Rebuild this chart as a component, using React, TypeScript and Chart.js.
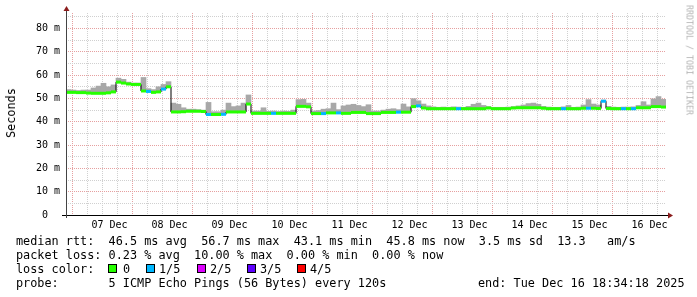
import React, { useEffect, useRef } from 'react';
import { Chart, registerables } from 'chart.js';

Chart.register(...registerables);

// ---- data (one sample = 2 hours, 120 samples over 10 days) ----
const HOURS_PER_SAMPLE = 2;
const MEDIAN_MS = [
  52.6, 52.6, 52.5, 52.5, 52.3, 52.2, 52.2, 52.2, 52.4, 52.8,
  57.0, 56.6, 56.2, 56.0, 56.0, 53.2, 53.0, 52.6, 52.8, 54.0,
  55.0, 44.2, 44.2, 44.3, 44.5, 44.5, 44.5, 44.4, 43.1, 43.1,
  43.1, 43.2, 44.2, 44.2, 44.2, 44.2, 47.6, 43.6, 43.6, 43.6,
  43.6, 43.6, 43.6, 43.6, 43.6, 43.6, 46.6, 46.6, 46.4, 43.5,
  43.5, 43.5, 43.8, 43.8, 43.8, 43.6, 43.6, 44.0, 44.0, 44.0,
  43.5, 43.5, 43.5, 44.0, 44.0, 44.0, 44.1, 44.1, 44.1, 46.5,
  46.8, 45.9, 45.6, 45.6, 45.6, 45.6, 45.6, 45.6, 45.6, 45.6,
  45.6, 45.6, 45.6, 45.6, 45.9, 45.6, 45.6, 45.6, 45.6, 45.9,
  46.0, 46.0, 46.0, 46.0, 46.0, 45.8, 45.6, 45.6, 45.6, 45.6,
  45.6, 45.6, 45.6, 45.8, 45.8, 45.8, 45.7, 48.8, 45.7, 45.6,
  45.6, 45.6, 45.6, 45.6, 46.0, 46.0, 46.0, 46.5, 46.5, 46.3,
];
const SMOKE_MAX_MS = [
  53.8, 53.6, 53.4, 53.6, 53.6, 54.5, 55.3, 56.5, 55.0, 55.8,
  58.7, 58.2, 57.0, 56.6, 56.6, 59.0, 54.2, 53.8, 55.0, 56.0,
  57.2, 48.0, 47.5, 46.0, 45.4, 45.4, 45.2, 45.0, 48.3, 44.3,
  44.3, 45.0, 48.0, 46.5, 46.8, 48.0, 51.5, 44.6, 44.6, 46.0,
  44.5, 44.6, 44.4, 44.6, 44.5, 45.0, 49.5, 49.6, 48.0, 44.6,
  44.8, 45.4, 45.6, 48.0, 45.2, 46.8, 47.2, 47.5, 47.0, 46.5,
  47.3, 44.6, 44.6, 45.0, 45.4, 45.6, 45.2, 47.6, 46.4, 49.9,
  49.0, 47.6, 46.8, 46.4, 46.2, 46.3, 46.2, 46.4, 46.3, 46.2,
  46.6, 47.5, 48.0, 47.0, 46.5, 46.2, 46.2, 46.2, 46.3, 46.5,
  46.8, 47.2, 47.8, 48.0, 47.5, 46.6, 46.3, 46.2, 46.2, 46.4,
  47.0, 46.2, 46.3, 47.2, 49.5, 47.6, 47.2, 49.3, 46.6, 46.3,
  46.2, 46.3, 46.3, 46.4, 47.0, 48.6, 47.2, 49.8, 50.8, 49.6,
];
const LOST_PINGS = [
  0, 0, 0, 0, 0, 0, 0, 0, 0, 0,
  0, 0, 0, 0, 0, 0, 1, 0, 0, 1,
  0, 0, 0, 0, 0, 0, 0, 0, 1, 0,
  0, 1, 0, 0, 0, 0, 0, 0, 0, 0,
  0, 1, 0, 0, 0, 0, 0, 0, 0, 0,
  0, 1, 0, 0, 1, 0, 0, 0, 0, 0,
  0, 0, 0, 0, 0, 0, 1, 0, 0, 0,
  1, 0, 0, 0, 0, 0, 0, 0, 1, 0,
  0, 0, 0, 0, 0, 0, 0, 0, 0, 0,
  0, 0, 0, 0, 0, 0, 0, 0, 0, 1,
  0, 0, 0, 0, 1, 0, 0, 1, 0, 0,
  0, 1, 0, 1, 0, 0, 0, 0, 0, 0,
];
const DAY_LABELS = ['07 Dec', '08 Dec', '09 Dec', '10 Dec', '11 Dec', '12 Dec', '13 Dec', '14 Dec', '15 Dec', '16 Dec'];
const Y_TICKS = [0, 5, 10, 15, 20, 25, 30, 35, 40, 45, 50, 55, 60, 65, 70, 75, 80, 85];
const Y_MAX = 86.65;
const LOSS_COLORS = ['#26ff00', '#00b8ff', '#dd00ff', '#5e00ff', '#ff0000'];
const LOSS_LABELS = ['0', '1/5', '2/5', '3/5', '4/5'];
const LINE_RTT = 'median rtt:  46.5 ms avg  56.7 ms max  43.1 ms min  45.8 ms now  3.5 ms sd  13.3   am/s';
const LINE_LOSS = 'packet loss: 0.23 % avg  10.00 % max  0.00 % min  0.00 % now';
const LINE_PROBE = 'probe:       5 ICMP Echo Pings (56 Bytes) every 120s';
const LINE_END = 'end: Tue Dec 16 18:34:18 2025';
// graph starts Dec 06 18:34:18 -> first midnight 5h25m42s later
const FIRST_MIDNIGHT_H = 5 + 25 / 60 + 42 / 3600;

const MAJOR = 'rgb(230,160,160)';
const MINOR = 'rgb(208,208,208)';
const MONO = '"DejaVu Sans Mono", monospace';

const rrdAxes = {
  id: 'rrdAxes',
  afterDatasetsDraw(chart: any) {
    const { ctx, chartArea: a } = chart;
    ctx.save();
    ctx.lineWidth = 1;
    ctx.strokeStyle = '#000';
    ctx.beginPath();
    ctx.moveTo(a.left - 4, a.bottom + 0.5);
    ctx.lineTo(a.right + 2, a.bottom + 0.5);
    ctx.stroke();
    ctx.strokeStyle = '#444';
    ctx.beginPath();
    ctx.moveTo(a.left + 0.5, a.bottom + 3);
    ctx.lineTo(a.left + 0.5, a.top - 2);
    ctx.stroke();
    ctx.fillStyle = '#8b1c1c';
    ctx.beginPath();
    ctx.moveTo(a.right + 7, a.bottom + 0.5);
    ctx.lineTo(a.right + 2, a.bottom - 2.5);
    ctx.lineTo(a.right + 2, a.bottom + 3.5);
    ctx.closePath();
    ctx.fill();
    ctx.beginPath();
    ctx.moveTo(a.left + 0.5, a.top - 7);
    ctx.lineTo(a.left - 2.5, a.top - 2);
    ctx.lineTo(a.left + 3.5, a.top - 2);
    ctx.closePath();
    ctx.fill();
    ctx.restore();
  },
};

export default function App() {
  const ref = useRef<HTMLCanvasElement | null>(null);

  useEffect(() => {
    if (!ref.current) return;
    const n = MEDIAN_MS.length;
    const totalH = n * HOURS_PER_SAMPLE;
    const center = (i: number) => i * HOURS_PER_SAMPLE + HOURS_PER_SAMPLE / 2;
    const smoke = MEDIAN_MS.map((m, i) => ({ x: center(i), y: [m, SMOKE_MAX_MS[i]] }));
    const medianPts = MEDIAN_MS.map((m, i) => ({ x: center(i), y: m }));
    const stepPts = MEDIAN_MS.map((m, i) => ({ x: i * HOURS_PER_SAMPLE, y: m }));
    stepPts.push({ x: totalH, y: MEDIAN_MS[n - 1] });
    const lossCols = LOST_PINGS.map((l) => LOSS_COLORS[l]);

    const xTicks: { value: number }[] = [];
    for (let v = FIRST_MIDNIGHT_H; v < totalH; v += 6) xTicks.push({ value: v });

    const chart = new Chart(ref.current, {
      type: 'bar',
      data: {
        datasets: [
          {
            type: 'bar',
            data: smoke as any,
            backgroundColor: '#a8a8a8',
            borderWidth: 0,
            barPercentage: 1,
            categoryPercentage: 1,
            grouped: false,
            order: 3,
          } as any,
          {
            type: 'line',
            data: stepPts,
            stepped: 'before',
            borderColor: '#000',
            borderWidth: 1,
            pointRadius: 0,
            order: 2,
          } as any,
          {
            type: 'line',
            data: medianPts,
            showLine: false,
            pointStyle: 'line',
            pointRadius: 2.5,
            pointBorderWidth: 3,
            pointBorderColor: lossCols,
            pointBackgroundColor: lossCols,
            order: 1,
          } as any,
        ],
      },
      options: {
        animation: false,
        responsive: false,
        events: [],
        layout: { padding: { top: 13, right: 31, bottom: 0, left: 0 } },
        plugins: { legend: { display: false }, tooltip: { enabled: false } },
        scales: {
          x: {
            type: 'linear',
            min: 0,
            max: totalH,
            offset: false,
            grid: {
              color: (c: any) => (c.index % 4 === 0 ? MAJOR : MINOR),
              drawTicks: false,
              lineWidth: 1,
            },
            border: { display: false, dash: [1, 1] },
            ticks: {
              autoSkip: false,
              maxRotation: 0,
              minRotation: 0,
              padding: 4,
              color: '#000',
              font: { family: MONO, size: 10 },
              callback: (_v: any, i: number) => (i % 4 === 2 ? DAY_LABELS[(i - 2) / 4] : ''),
            },
            afterBuildTicks: (s: any) => {
              s.ticks = xTicks.map((t) => ({ ...t }));
            },
            afterFit: (s: any) => {
              s.height = 82;
            },
          } as any,
          y: {
            min: 0,
            max: Y_MAX,
            grid: {
              color: (c: any) => (c.tick && c.tick.value % 10 === 0 ? MAJOR : MINOR),
              drawTicks: false,
              lineWidth: 1,
            },
            border: { display: false, dash: [1, 1] },
            ticks: {
              autoSkip: false,
              padding: 6,
              color: '#000',
              font: { family: MONO, size: 10 },
              callback: (v: any) => (v % 10 === 0 ? (v === 0 ? '0  ' : `${v} m`) : ''),
            },
            afterBuildTicks: (s: any) => {
              s.ticks = Y_TICKS.map((v) => ({ value: v }));
            },
            afterFit: (s: any) => {
              s.width = 66;
            },
          } as any,
        },
      },
      plugins: [rrdAxes],
    });
    return () => chart.destroy();
  }, []);

  const txt: React.CSSProperties = {
    position: 'absolute',
    fontFamily: MONO,
    fontSize: '11.83px',
    lineHeight: '14px',
    whiteSpace: 'pre',
    color: '#000',
    margin: 0,
  };
  const boxLeft = [108, 146, 197, 247, 297];
  const labelLeft = [123, 159, 210, 260, 310];

  return (
    <div style={{ position: 'fixed', left: 0, top: 0, width: 697, height: 297, background: '#fff', overflow: 'hidden' }}>
      <canvas ref={ref} width={697} height={297} style={{ position: 'absolute', left: 0, top: 0, width: 697, height: 297 }} />
      <div style={{ ...txt, left: 10.5, top: 113, transform: 'translate(-50%, -50%) rotate(-90deg)' }}>Seconds</div>
      <div
        style={{
          ...txt,
          left: 688.5,
          top: 60,
          fontSize: '8.3px',
          lineHeight: '9px',
          color: '#b4b4b4',
          transform: 'translate(-50%, -50%) rotate(90deg)',
        }}
      >
        RRDTOOL / TOBI OETIKER
      </div>
      <div style={{ ...txt, left: 16, top: 234 }}>{LINE_RTT}</div>
      <div style={{ ...txt, left: 16, top: 248 }}>{LINE_LOSS}</div>
      <div style={{ ...txt, left: 16, top: 262 }}>loss color:</div>
      {LOSS_LABELS.map((l, i) => (
        <React.Fragment key={l}>
          <div
            style={{
              position: 'absolute',
              left: boxLeft[i],
              top: 264,
              width: 9,
              height: 9,
              boxSizing: 'border-box',
              border: '1px solid #000',
              background: LOSS_COLORS[i],
            }}
          />
          <div style={{ ...txt, left: labelLeft[i], top: 262 }}>{l}</div>
        </React.Fragment>
      ))}
      <div style={{ ...txt, left: 16, top: 276 }}>{LINE_PROBE}</div>
      <div style={{ ...txt, left: 478, top: 276 }}>{LINE_END}</div>
    </div>
  );
}
